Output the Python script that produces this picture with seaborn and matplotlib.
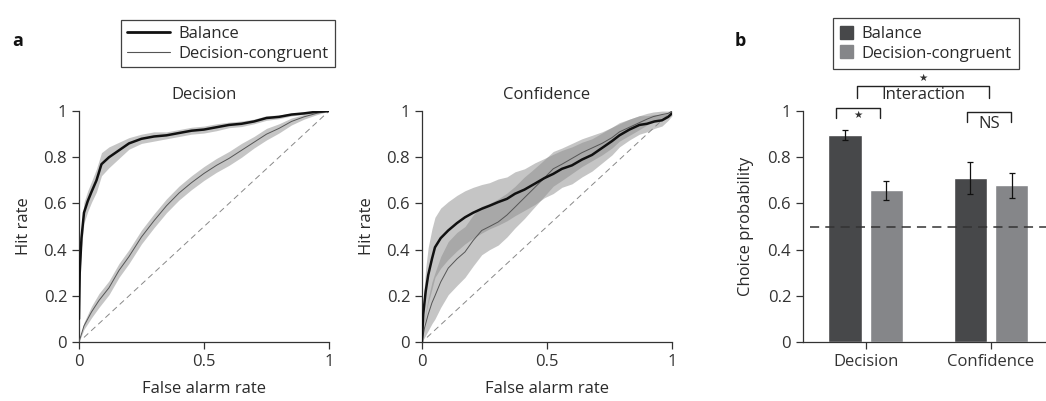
import numpy as np
import pandas as pd
import matplotlib
matplotlib.use("Agg")
import matplotlib.pyplot as plt
import seaborn as sns
from matplotlib.lines import Line2D
from matplotlib.patches import Patch

# ROC data
dec_bal_fa = [0, 0.003, 0.01, 0.02, 0.035, 0.05, 0.07, 0.09, 0.12, 0.16, 0.2, 0.25, 0.3, 0.35,
              0.4, 0.45, 0.5, 0.55, 0.6, 0.65, 0.7, 0.75, 0.8, 0.85, 0.9, 0.95, 1.0]
dec_bal_hit = [0.1, 0.3, 0.45, 0.56, 0.61, 0.65, 0.70, 0.77, 0.80, 0.83, 0.86, 0.88, 0.89, 0.895,
               0.905, 0.915, 0.92, 0.93, 0.94, 0.945, 0.955, 0.97, 0.975, 0.985, 0.99, 0.997, 1.0]
dec_bal_sem = [0.0, 0.03, 0.04, 0.045, 0.045, 0.045, 0.05, 0.05, 0.045, 0.035, 0.025, 0.02, 0.02, 0.015,
               0.015, 0.015, 0.015, 0.015, 0.012, 0.012, 0.01, 0.01, 0.008, 0.006, 0.005, 0.003, 0.0]

dec_con_fa = [0, 0.02, 0.05, 0.08, 0.12, 0.16, 0.2, 0.25, 0.3, 0.35, 0.4, 0.45, 0.5, 0.55, 0.6,
              0.65, 0.7, 0.75, 0.8, 0.85, 0.9, 0.95, 1.0]
dec_con_hit = [0, 0.07, 0.13, 0.18, 0.235, 0.31, 0.37, 0.455, 0.525, 0.59, 0.645, 0.69, 0.73, 0.765,
               0.795, 0.83, 0.865, 0.9, 0.925, 0.955, 0.975, 0.99, 1.0]
dec_con_sem = [0, 0.015, 0.025, 0.03, 0.03, 0.03, 0.03, 0.03, 0.03, 0.03, 0.03, 0.03, 0.03, 0.03,
               0.03, 0.03, 0.025, 0.025, 0.02, 0.015, 0.01, 0.006, 0]

conf_bal_fa = [0, 0.005, 0.015, 0.025, 0.04, 0.052, 0.075, 0.105, 0.14, 0.172, 0.205, 0.239, 0.27,
               0.305, 0.34, 0.372, 0.41, 0.452, 0.49, 0.525, 0.56, 0.6, 0.64, 0.68, 0.72, 0.76,
               0.79, 0.83, 0.87, 0.9, 0.93, 0.96, 0.985, 1.0]
conf_bal_hit = [0, 0.12, 0.22, 0.29, 0.36, 0.41, 0.45, 0.483, 0.515, 0.54, 0.56, 0.577, 0.59,
                0.606, 0.62, 0.642, 0.66, 0.686, 0.71, 0.728, 0.75, 0.765, 0.79, 0.81, 0.84, 0.87,
                0.895, 0.92, 0.94, 0.945, 0.955, 0.96, 0.975, 0.99]
conf_bal_sem = [0, 0.06, 0.1, 0.12, 0.13, 0.13, 0.13, 0.125, 0.12, 0.115, 0.11, 0.105, 0.1,
                0.1, 0.095, 0.095, 0.09, 0.09, 0.085, 0.085, 0.08, 0.08, 0.075, 0.07, 0.065, 0.06,
                0.05, 0.045, 0.04, 0.035, 0.03, 0.025, 0.015, 0.01]

conf_con_fa = [0, 0.01, 0.025, 0.04, 0.052, 0.075, 0.105, 0.14, 0.172, 0.205, 0.239, 0.27, 0.305,
               0.34, 0.372, 0.41, 0.44, 0.48, 0.525, 0.56, 0.6, 0.64, 0.68, 0.72, 0.76, 0.79,
               0.83, 0.87, 0.9, 0.925, 0.96, 0.985, 1.0]
conf_con_hit = [0, 0.06, 0.12, 0.17, 0.2, 0.26, 0.32, 0.36, 0.39, 0.44, 0.483, 0.5, 0.52,
                0.55, 0.584, 0.625, 0.657, 0.7, 0.75, 0.77, 0.795, 0.82, 0.84, 0.86, 0.885, 0.91,
                0.93, 0.95, 0.965, 0.976, 0.985, 0.99, 1.0]
conf_con_sem = [0, 0.04, 0.07, 0.09, 0.1, 0.11, 0.115, 0.115, 0.11, 0.11, 0.105, 0.1, 0.1,
                0.095, 0.09, 0.09, 0.085, 0.08, 0.075, 0.07, 0.065, 0.06, 0.055, 0.05, 0.045, 0.04,
                0.035, 0.03, 0.025, 0.02, 0.015, 0.01, 0]

# choice probability bars
conditions = ["Decision", "Decision", "Confidence", "Confidence"]
signal = ["Balance", "Decision-congruent", "Balance", "Decision-congruent"]
choice_prob = [0.895, 0.657, 0.71, 0.678]
cp_err = [0.022, 0.042, 0.07, 0.055]

sns.set_style("ticks")
plt.rcParams["font.family"] = ["Open Sans", "DejaVu Sans"]
plt.rcParams["font.size"] = 12
plt.rcParams["axes.edgecolor"] = "#333333"
plt.rcParams["axes.linewidth"] = 0.9
plt.rcParams["xtick.color"] = "#333333"
plt.rcParams["ytick.color"] = "#333333"
plt.rcParams["text.color"] = "#2a2a2a"
plt.rcParams["axes.labelcolor"] = "#2a2a2a"

fig = plt.figure(figsize=(10.46, 4.01), dpi=100)
ax1 = fig.add_axes([0.0755, 0.147, 0.239, 0.576])
ax2 = fig.add_axes([0.4034, 0.147, 0.239, 0.576])
ax3 = fig.add_axes([0.7677, 0.147, 0.2323, 0.576])

band_col = "#8c8c8c"


def roc_panel(ax, curves, title):
    ax.plot([0.02, 1], [0.02, 1], ls=(0, (6, 4)), color="#888888", lw=0.7, zorder=1)
    for fa, hit, sem, lw, col in curves:
        df = pd.DataFrame({"fa": fa, "hit": hit, "sem": sem})
        ax.fill_between(df["fa"], df["hit"] - df["sem"], (df["hit"] + df["sem"]).clip(upper=1),
                        color=band_col, alpha=0.5, lw=0, zorder=2)
        sns.lineplot(data=df, x="fa", y="hit", ax=ax, color=col, lw=lw, zorder=3,
                     estimator=None, sort=False)
    ax.set_xlim(0, 1)
    ax.set_ylim(0, 1)
    ax.set_xticks([0, 0.5, 1])
    ax.set_xticklabels(["0", "0.5", "1"])
    ax.set_yticks([0, 0.2, 0.4, 0.6, 0.8, 1])
    ax.set_yticklabels(["0", "0.2", "0.4", "0.6", "0.8", "1"])
    ax.set_xlabel("False alarm rate", labelpad=8)
    ax.set_ylabel("Hit rate", labelpad=8)
    ax.set_title(title, fontsize=12, pad=9)
    ax.tick_params(length=5, width=0.9)
    sns.despine(ax=ax)
    for s in ax.spines.values():
        s.set_clip_on(False)


roc_panel(ax1, [(dec_con_fa, dec_con_hit, dec_con_sem, 0.7, "#555555"),
                (dec_bal_fa, dec_bal_hit, dec_bal_sem, 1.8, "#111111")], "Decision")
roc_panel(ax2, [(conf_con_fa, conf_con_hit, conf_con_sem, 0.7, "#555555"),
                (conf_bal_fa, conf_bal_hit, conf_bal_sem, 1.8, "#111111")], "Confidence")

fig.legend(handles=[Line2D([], [], color="#111111", lw=2),
                    Line2D([], [], color="#555555", lw=0.8)],
           labels=["Balance", "Decision-congruent"],
           loc="upper left", bbox_to_anchor=(0.108, 0.97), frameon=True, fancybox=False,
           edgecolor="#111111", handlelength=2.6, handletextpad=0.5, borderpad=0.35,
           labelspacing=0.2, fontsize=12).get_frame().set_linewidth(0.9)

# bar panel
bar_df = pd.DataFrame({"condition": conditions, "signal": signal, "cp": choice_prob})
pal = {"Balance": "#47484a", "Decision-congruent": "#858689"}
sns.barplot(data=bar_df, x="condition", y="cp", hue="signal", palette=pal, ax=ax3,
            errorbar=None, width=0.66, gap=0.2, legend=False, saturation=1)
for cont, lvl in zip(ax3.containers, ["Balance", "Decision-congruent"]):
    for rect, cond in zip(cont.patches, ["Decision", "Confidence"]):
        i = [k for k in range(4) if conditions[k] == cond and signal[k] == lvl][0]
        xc = rect.get_x() + rect.get_width() / 2
        ax3.errorbar(xc, choice_prob[i], yerr=cp_err[i], color="#111111", lw=0.9,
                     capsize=2, capthick=0.9, zorder=4)
ax3.axhline(0.5, xmin=0.03, color="#333333", ls=(0, (6, 4)), lw=1.1, zorder=5)
ax3.set_xlim(-0.5, 1.44)
ax3.set_ylim(0, 1)
ax3.set_yticks([0, 0.2, 0.4, 0.6, 0.8, 1])
ax3.set_yticklabels(["0", "0.2", "0.4", "0.6", "0.8", "1"])
ax3.set_xlabel("")
ax3.set_ylabel("Choice probability", labelpad=10)
ax3.tick_params(length=5, width=0.9)
sns.despine(ax=ax3)

# significance brackets
bk = dict(color="#222222", lw=1.0, clip_on=False)
star = dict(ha="center", va="center", fontsize=7.5, family=["DejaVu Sans"], color="#333333")
ax3.plot([-0.235, -0.235, 0.116, 0.116], [0.97, 1.013, 1.013, 0.97], **bk)
ax3.text(-0.06, 0.982, "\u2605", **star)
ax3.plot([0.809, 0.809, 1.16, 1.16], [0.952, 0.996, 0.996, 0.952], **bk)
ax3.text(0.984, 0.944, "NS", ha="center", va="center", fontsize=12)
ax3.plot([-0.068, -0.068, 0.984, 0.984], [1.057, 1.109, 1.109, 1.057], **bk)
ax3.text(0.458, 1.068, "Interaction", ha="center", va="center", fontsize=12)
ax3.text(0.458, 1.145, "\u2605", **star)

fig.legend(handles=[Patch(color=pal["Balance"]), Patch(color=pal["Decision-congruent"])],
           labels=["Balance", "Decision-congruent"],
           loc="upper left", bbox_to_anchor=(0.788, 0.975), frameon=True, fancybox=False,
           edgecolor="#111111", handlelength=0.8, handleheight=0.8, handletextpad=0.5,
           borderpad=0.45, labelspacing=0.2, fontsize=12).get_frame().set_linewidth(0.9)

fig.text(0.012, 0.885, "a", fontsize=13, fontweight="bold", color="#111111")
fig.text(0.702, 0.885, "b", fontsize=13, fontweight="bold", color="#111111")

fig.savefig("out.png", dpi=100)
